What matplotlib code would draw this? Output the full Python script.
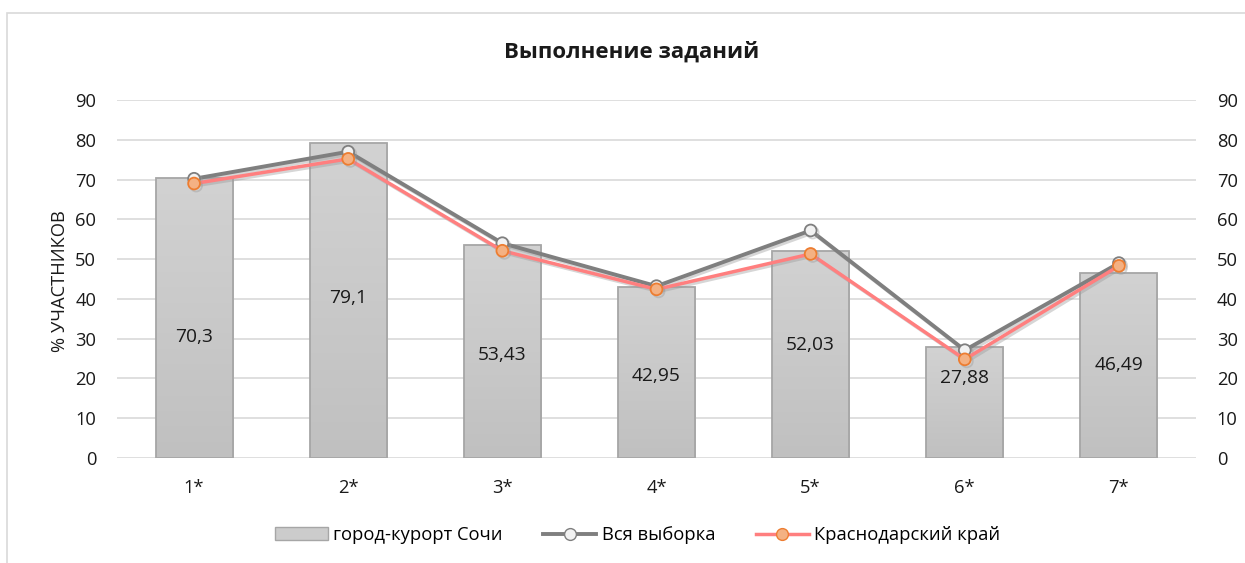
import numpy as np
import matplotlib.pyplot as plt
from matplotlib.patches import Rectangle
from matplotlib.lines import Line2D
from matplotlib.colors import LinearSegmentedColormap
import matplotlib.patheffects as pe

plt.rcParams['font.family'] = ['Open Sans', 'DejaVu Sans']

tasks = ["1*", "2*", "3*", "4*", "5*", "6*", "7*"]
sochi = [70.3, 79.1, 53.43, 42.95, 52.03, 27.88, 46.49]
sochi_labels = ["70,3", "79,1", "53,43", "42,95", "52,03", "27,88", "46,49"]
vsya = [70.2, 77.0, 54.0, 43.2, 57.2, 27.1, 49.0]
kray = [69.0, 75.2, 52.1, 42.4, 51.3, 24.8, 48.3]

# where Excel put the data labels (in data units)
label_y = [30.5, 40.2, 26.0, 20.6, 28.5, 20.1, 23.5]

FS = 13.2
TXT = '#1a1a1a'

fig = plt.figure(figsize=(12.45, 5.63), dpi=100)
fig.patches.append(Rectangle((7 / 1245, -0.1), 1.2, 1 - 13 / 563 + 0.1,
                             transform=fig.transFigure, fill=False,
                             edgecolor='#d9d9d9', linewidth=1.2))
ax = fig.add_axes([117 / 1245, 105 / 563, (1196 - 117) / 1245, 358 / 563])

x = np.arange(len(tasks))

# gradient-filled bars
bars = ax.bar(x, sochi, width=0.5, color='none', edgecolor='#a6a6a6',
              linewidth=1.3, zorder=3)
grad = np.linspace(0, 1, 256).reshape(-1, 1)
cmap = LinearSegmentedColormap.from_list('g', ['#c0c0c0', '#d2d2d2'])
for b in bars:
    x0, y0 = b.get_x(), b.get_y()
    w, h = b.get_width(), b.get_height()
    im = ax.imshow(grad, extent=[x0, x0 + w, y0, y0 + h], aspect='auto',
                   cmap=cmap, origin='lower', zorder=2)
    im.set_clip_path(b)

for xi, ly, t in zip(x, label_y, sochi_labels):
    ax.text(xi, ly, t, ha='center', va='center', fontsize=13.8,
            color=TXT, zorder=6)

shadow = [pe.SimpleLineShadow(offset=(1.5, -1.5), shadow_color='#999999',
                              alpha=0.4), pe.Normal()]
ax.plot(x, vsya, color='#7f7f7f', linewidth=2.8, marker='o', markersize=8.5,
        markerfacecolor='#f2f2f2', markeredgecolor='#7f7f7f',
        markeredgewidth=1.3, zorder=4, path_effects=shadow)
ax.plot(x, kray, color='#ff7f7f', linewidth=2.5, marker='o', markersize=8.5,
        markerfacecolor='#f4b183', markeredgecolor='#ed7d31',
        markeredgewidth=1.3, zorder=5, path_effects=shadow)

ax.set_xlim(-0.5, 6.5)
ax.set_ylim(0, 90)
ax.set_yticks(range(0, 91, 10))
ax.set_xticks(x)
ax.set_xticklabels(tasks)
ax.grid(axis='y', color='#d9d9d9', linewidth=1.2, zorder=0)
for s in ax.spines.values():
    s.set_visible(False)
ax.tick_params(length=0, labelsize=FS, colors=TXT)
ax.tick_params(axis='x', pad=15)
ax.tick_params(axis='y', pad=15)

ax2 = ax.twinx()
ax2.set_ylim(0, 90)
ax2.set_yticks(range(0, 91, 10))
for s in ax2.spines.values():
    s.set_visible(False)
ax2.tick_params(length=0, labelsize=FS, colors=TXT, pad=15)

fig.text(60 / 1245, 1 - 281 / 563, "% УЧАСТНИКОВ", rotation=90, ha='center',
         va='center', fontsize=FS, color=TXT)
fig.text(0.507, 1 - 52 / 563, "Выполнение заданий", ha='center', va='center',
         fontsize=16, fontweight='bold', color=TXT)

handles = [Rectangle((0, 0), 1, 1, facecolor='#cccccc', edgecolor='#a6a6a6'),
           Line2D([], [], color='#7f7f7f', linewidth=2.8, marker='o',
                  markersize=8.5, markerfacecolor='#f2f2f2',
                  markeredgecolor='#7f7f7f'),
           Line2D([], [], color='#ff7f7f', linewidth=2.5, marker='o',
                  markersize=8.5, markerfacecolor='#f4b183',
                  markeredgecolor='#ed7d31')]
fig.legend(handles, ["город-курорт Сочи", "Вся выборка", "Краснодарский край"],
           loc='center', bbox_to_anchor=(0.512, 1 - 535 / 563), ncol=3,
           frameon=False, fontsize=FS, handlelength=2.9, columnspacing=2.2,
           handletextpad=0.3)

fig.savefig("out.png", dpi=100)
